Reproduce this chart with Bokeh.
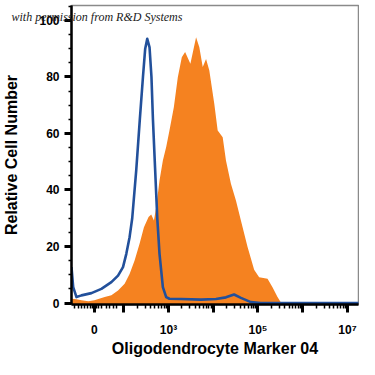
import numpy as np
from bokeh.plotting import figure
from bokeh.models import Range1d, FixedTicker, SingleIntervalTicker
from bokeh.embed import file_html
from bokeh.resources import INLINE

# x values are positions on the cytometer's biexponential display axis,
# expressed in decades (10^3 -> 3, 10^5 -> 5, ...; the linear zero sits at 1.345)
orange_x = [0.833, 0.944, 1.056, 1.212, 1.345, 1.575, 1.724, 1.873, 2.020, 2.131,
            2.243, 2.354, 2.452, 2.555, 2.615, 2.675, 2.726, 2.800, 2.875, 2.949,
            3.022, 3.120, 3.209, 3.298, 3.372, 3.490, 3.617, 3.690, 3.766, 3.840,
            3.913, 4.024, 4.100, 4.212, 4.285, 4.396, 4.508, 4.619, 4.768, 4.915,
            5.027, 5.214, 5.325, 5.437, 5.510, 5.621, 7.51]
orange_y = [1.5, 1.3, 1.0, 0.6, 1.0, 2.1, 2.7, 4.4, 6.8, 10.3,
            15.0, 21.0, 26.8, 30.4, 31.3, 29.2, 33.9, 43.4, 50.4, 55.2,
            61.1, 69.3, 79.9, 87.0, 88.8, 84.7, 94.1, 90.5, 83.5, 86.4,
            82.3, 70.5, 61.1, 58.7, 50.4, 42.2, 36.3, 29.2, 19.8, 11.8,
            9.1, 8.6, 5.6, 2.1, 0.3, 0.0, 0.0]

blue_x = [0.833, 0.871, 0.944, 1.056, 1.278, 1.501, 1.724, 1.873, 1.984, 2.058,
          2.131, 2.190, 2.280, 2.360, 2.430, 2.480, 2.526, 2.577, 2.620, 2.653,
          2.700, 2.750, 2.800, 2.875, 2.949, 3.022, 3.283, 3.728, 4.062, 4.285,
          4.466, 4.619, 4.842, 5.065, 7.51]
blue_y = [12.7, 5.6, 2.1, 2.7, 3.5, 5.0, 7.4, 9.7, 12.7, 17.4,
          23.3, 30.0, 47.0, 65.0, 80.0, 90.0, 93.5, 90.5, 80.0, 65.0,
          48.0, 30.0, 17.4, 5.6, 2.1, 1.5, 1.4, 1.2, 1.4, 2.0,
          3.0, 1.8, 0.3, 0.0, 0.0]

x_major_ticks = [1.345, 2, 3, 4, 5, 6, 7]
x_major_labels = ["0", "", "10³", "", "10⁵", "", "10⁷"]
x_linear_minor = [0.900, 0.989, 1.056, 1.123, 1.190, 1.256, 1.301, 1.390,
                  1.434, 1.501, 1.612, 1.679, 1.767, 1.834]
x_log_minor = [k + np.log10(m) for k in range(2, 7) for m in range(2, 10)]

x_start, x_end = 0.833, 7.247
y_start, y_end = -0.53, 105.3

FONT = "Liberation Sans"

p = figure(width=359, height=359, output_backend="svg", toolbar_location=None,
           x_range=Range1d(x_start, x_end), y_range=Range1d(y_start, y_end),
           min_border_left=70, min_border_right=1, min_border_top=5,
           min_border_bottom=55)
p.xgrid.visible = False
p.ygrid.visible = False
p.background_fill_color = "white"
p.border_fill_color = "white"
p.outline_line_color = "#8a8a8a"
p.outline_line_width = 1.5

# watermark line, drawn as the (overlapping) plot title
p.title.text = "with permission from R&D Systems"
p.title.align = "left"
p.title.offset = -60
p.title.standoff = -36
p.title.text_font = "Liberation Serif"
p.title.text_font_style = "italic"
p.title.text_font_size = "12px"
p.title.text_color = "#1a1a1a"

p.varea(x=orange_x, y1=[y_start] * len(orange_x), y2=orange_y,
        fill_color="#f58220", fill_alpha=1.0)
p.line(blue_x, blue_y, line_color="#22509b", line_width=2.6, line_join="round")

# x axis
p.xaxis.ticker = FixedTicker(ticks=x_major_ticks,
                             minor_ticks=x_linear_minor + x_log_minor)
p.xaxis.major_label_overrides = dict(zip(x_major_ticks, x_major_labels))
p.xaxis.axis_label = "Oligodendrocyte Marker 04"
p.xaxis.major_label_standoff = 10
p.xaxis.axis_label_standoff = 0

# y axis
p.yaxis.ticker = SingleIntervalTicker(interval=20, num_minor_ticks=4)
p.yaxis.axis_label = "Relative Cell Number"
p.yaxis.major_label_standoff = 5
p.yaxis.axis_label_standoff = 16

for ax in (p.xaxis[0], p.yaxis[0]):
    ax.axis_line_color = "black"
    ax.axis_line_width = 2.5
    ax.major_tick_in = 0
    ax.minor_tick_in = 0
    ax.major_tick_line_width = 3
    ax.minor_tick_line_width = 1.5
    ax.major_tick_line_color = "black"
    ax.minor_tick_line_color = "black"
    ax.major_label_text_font = FONT
    ax.major_label_text_font_style = "bold"
    ax.major_label_text_font_size = "12px"
    ax.major_label_text_color = "black"
    ax.axis_label_text_font = FONT
    ax.axis_label_text_font_style = "bold"
    ax.axis_label_text_font_size = "16px"
    ax.axis_label_text_color = "black"

p.xaxis.major_tick_out = 8
p.xaxis.minor_tick_out = 4
p.yaxis.major_tick_out = 7
p.yaxis.minor_tick_out = 3

open("out.html", "w").write(file_html(p, INLINE))
